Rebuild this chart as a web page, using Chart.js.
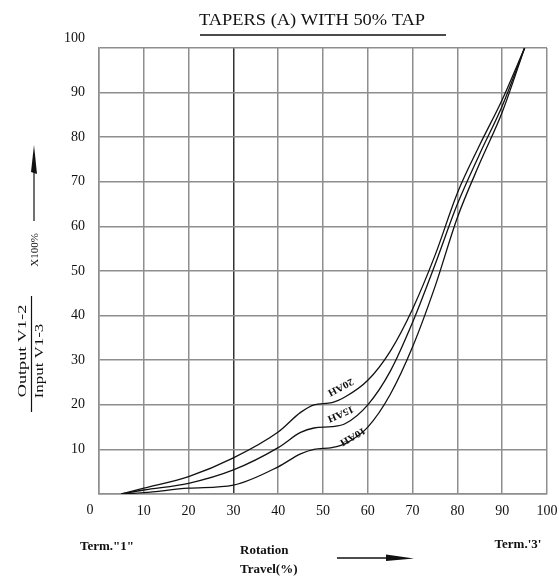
<!DOCTYPE html>
<html>
<head>
<meta charset="utf-8">
<script src="https://cdn.jsdelivr.net/npm/chart.js@4"></script>
<style>
  html, body { margin: 0; padding: 0; background: #fff; }
  #wrap { width: 559px; height: 577px; position: relative; }
</style>
</head>
<body>
<div id="wrap"><canvas id="c" width="559" height="577"></canvas></div>
<script>
// ---- data ----
const rotationTravel = [5, 10, 20, 30, 40, 45, 48, 52, 55, 60, 65, 70, 75, 80, 85, 90, 95];
const taper20AH = [0, 1.3, 3.9, 8.1, 13.9, 18.3, 20, 20.5, 21.8, 25.5, 32, 41.5, 53.5, 67.5, 78.3, 88.4, 100];
const taper15AH = [0, 0.9, 2.4, 5.4, 10.4, 13.8, 14.8, 15.1, 15.8, 20, 27.5, 38.5, 51.4, 65, 76.3, 87, 100];
const taper10AH = [0, 0.3, 1.3, 2, 6.1, 9, 10, 10.4, 11.3, 15, 22.3, 33, 46.5, 62, 74.2, 85.6, 100];
const seriesNames = ['20AH', '15AH', '10AH'];
const xTicks = [0, 10, 20, 30, 40, 50, 60, 70, 80, 90, 100];
const yTicks = [0, 10, 20, 30, 40, 50, 60, 70, 80, 90, 100];
const titleText = 'TAPERS (A) WITH 50% TAP';

const SERIF = '"Liberation Serif", "DejaVu Serif", serif';

function pts(ys) { return rotationTravel.map((x, i) => ({ x: x, y: ys[i] })); }

const curveStyle = {
  borderColor: '#111', borderWidth: 1.3, pointRadius: 0, fill: false,
  cubicInterpolationMode: 'monotone', showLine: true
};

// labels written along the curves (positions in data units)
const curveLabels = [
  { text: seriesNames[0], x: 53.9, y: 24.0, angle: 152 },
  { text: seriesNames[1], x: 53.9, y: 18.0, angle: 157 },
  { text: seriesNames[2], x: 56.6, y: 12.9, angle: 150 }
];

const decorPlugin = {
  id: 'decor',
  afterDraw(chart) {
    const ctx = chart.ctx;
    const xs = chart.scales.x, ys = chart.scales.y;
    ctx.save();
    ctx.fillStyle = '#111';
    ctx.strokeStyle = '#111';

    function stext(t, x, y, font, sx, rot, align) {
      ctx.save();
      ctx.translate(x, y);
      if (rot) ctx.rotate(rot);
      ctx.scale(sx, 1);
      ctx.font = font;
      ctx.textAlign = align || 'center';
      ctx.textBaseline = 'middle';
      ctx.fillText(t, 0, 0);
      ctx.restore();
    }

    // title with underline
    stext(titleText, 312, 21, '16px ' + SERIF, 1.15);
    ctx.lineWidth = 1.6;
    ctx.beginPath(); ctx.moveTo(200, 35); ctx.lineTo(446, 35); ctx.stroke();

    // offset end tick labels (0 on x, 100 on y), as in the reference
    stext(String(yTicks[yTicks.length - 1]), 85, ys.getPixelForValue(yTicks[yTicks.length - 1]) - 10,
      '14px ' + SERIF, 1, 0, 'right');
    stext(String(xTicks[0]), xs.getPixelForValue(xTicks[0]) - 9, 510, '14px ' + SERIF, 1);

    // curve labels
    curveLabels.forEach(l => {
      stext(l.text, xs.getPixelForValue(l.x), ys.getPixelForValue(l.y), 'bold 10px ' + SERIF, 1.1,
        l.angle * Math.PI / 180);
    });

    // y axis title (rotated fraction)
    const R = -Math.PI / 2;
    stext('Output V1-2', 23, 351, '13px ' + SERIF, 1.4, R);
    stext('Input V1-3', 40, 361, '13px ' + SERIF, 1.3, R);
    stext('X100%', 35, 250, '11px ' + SERIF, 1, R);
    ctx.lineWidth = 1.2;
    ctx.beginPath(); ctx.moveTo(31.5, 296); ctx.lineTo(31.5, 412); ctx.stroke();
    // up arrow
    ctx.beginPath(); ctx.moveTo(34, 221); ctx.lineTo(34, 168); ctx.stroke();
    ctx.beginPath();
    ctx.moveTo(34, 145); ctx.lineTo(37, 174); ctx.lineTo(31, 172); ctx.closePath(); ctx.fill();

    // bottom annotations
    const B = 'bold 13px ' + SERIF;
    stext('Term."1"', 107, 547, B, 1);
    stext("Term.'3'", 518, 545, B, 1);
    stext('Rotation', 240, 551, B, 1, 0, 'left');
    stext('Travel(%)', 240, 570, B, 1, 0, 'left');
    ctx.lineWidth = 1.3;
    ctx.beginPath(); ctx.moveTo(337, 558); ctx.lineTo(395, 558); ctx.stroke();
    ctx.beginPath();
    ctx.moveTo(386, 554.5); ctx.lineTo(414, 558.5); ctx.lineTo(386, 561); ctx.closePath(); ctx.fill();
    ctx.restore();
  }
};

new Chart(document.getElementById('c'), {
  type: 'scatter',
  data: {
    datasets: [
      Object.assign({ label: seriesNames[0], data: pts(taper20AH) }, curveStyle),
      Object.assign({ label: seriesNames[1], data: pts(taper15AH) }, curveStyle),
      Object.assign({ label: seriesNames[2], data: pts(taper10AH) }, curveStyle)
    ]
  },
  options: {
    responsive: false,
    animation: false,
    events: [],
    layout: { padding: { top: 48, right: 12, left: 0, bottom: 0 } },
    plugins: { legend: { display: false }, tooltip: { enabled: false }, title: { display: false } },
    scales: {
      x: {
        type: 'linear', min: 0, max: 100,
        afterBuildTicks(s) { s.ticks = xTicks.map(v => ({ value: v })); },
        afterFit(s) { s.height = 83; s.paddingLeft = 0; s.paddingRight = 0; },
        grid: {
          drawTicks: false,
          color: ctx => (ctx.tick && ctx.tick.value === 30) ? '#333' : '#8e8e8e',
          lineWidth: 1.5
        },
        border: { color: '#8e8e8e', width: 1.5 },
        ticks: {
          padding: 9, color: '#111', font: { family: SERIF, size: 14 }, maxRotation: 0,
          callback: v => (v === xTicks[0] ? '' : String(v))
        }
      },
      y: {
        type: 'linear', min: 0, max: 100,
        afterBuildTicks(s) { s.ticks = yTicks.map(v => ({ value: v })); },
        afterFit(s) { s.width = 99; s.paddingTop = 0; s.paddingBottom = 0; },
        grid: { drawTicks: false, color: '#8e8e8e', lineWidth: 1.5 },
        border: { color: '#8e8e8e', width: 1.5 },
        ticks: {
          padding: 14, color: '#111', font: { family: SERIF, size: 14 },
          callback: v => (v === yTicks[0] || v === yTicks[yTicks.length - 1] ? '' : String(v))
        }
      }
    }
  },
  plugins: [decorPlugin]
});
</script>
</body>
</html>
